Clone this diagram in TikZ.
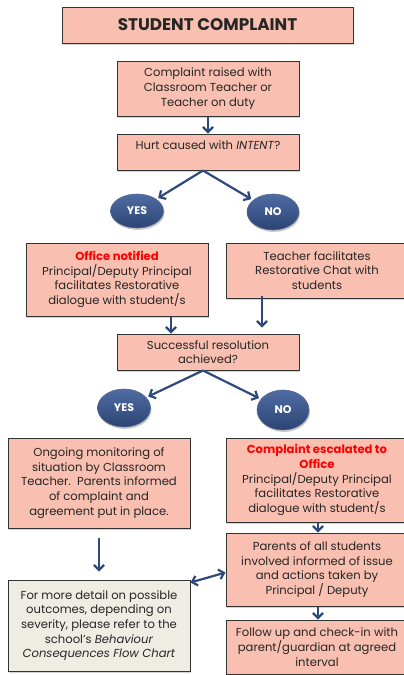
\documentclass[tikz,border=0pt]{standalone}
\usepackage{fontspec}
\setmainfont{Poppins}
\usetikzlibrary{arrows.meta,shapes.geometric,shadows}
\definecolor{salmon}{HTML}{F9BFB0}
\definecolor{greybox}{HTML}{EDEDE3}
\definecolor{arrblue}{HTML}{2E4A7D}
\definecolor{ovaltop}{HTML}{4F6CA3}
\definecolor{ovalbot}{HTML}{2C4474}
\definecolor{redtxt}{HTML}{FF0000}
\tikzset{
  box/.style={draw=black!80, line width=1pt, fill=salmon, align=center, inner sep=2pt,
    font=\fontsize{11.6}{14.7}\selectfont, text=black!85,
    drop shadow={shadow xshift=1pt, shadow yshift=-1.5pt, opacity=0.35}},
  gbox/.style={box, fill=greybox},
  oval/.style={ellipse, draw=ovalbot!80, line width=0.6pt, top color=ovaltop, bottom color=ovalbot,
    text=white, font=\fontsize{11}{13}\selectfont\bfseries, inner sep=0pt,
    drop shadow={shadow xshift=1pt, shadow yshift=-2pt, opacity=0.4}},
  arr/.style={draw=arrblue, line width=2.2pt, -{Straight Barb[length=5pt,width=10pt]}},
  darr/.style={draw=arrblue, line width=2.2pt, {Straight Barb[length=5pt,width=10pt]}-{Straight Barb[length=5pt,width=10pt]}},
}
\begin{document}
\begin{tikzpicture}[x=1pt,y=-1pt]
\useasboundingbox (0,0) rectangle (404,675);
\begin{scope}
\clip (0,0) rectangle (404,675);
\node[box, minimum width=291pt, minimum height=36pt, font=\fontsize{16.8}{20}\selectfont\bfseries] (title) at (207.5,25) {STUDENT COMPLAINT};
\node[box, minimum width=182pt, minimum height=55pt] (b1) at (208,88.5) {Complaint raised with\\Classroom Teacher or\\Teacher on duty};
\node[box, minimum width=182pt, minimum height=36pt] (b2) at (208,152) {Hurt caused with \textit{INTENT}?\\~};
\node[oval, minimum width=53pt, minimum height=34pt] (yes1) at (137,211) {YES};
\node[oval, minimum width=52pt, minimum height=36pt] (no1) at (273,212) {NO};
\node[box, minimum width=182pt, minimum height=73pt] (b3) at (117,279.5) {\textcolor{redtxt}{\textbf{Office notified}}\\Principal/Deputy Principal\\facilitates Restorative\\dialogue with student/s};
\node[box, minimum width=182pt, minimum height=55pt] (b4) at (317,270.5) {Teacher facilitates\\Restorative Chat with\\students};
\node[box, minimum width=182pt, minimum height=36pt] (b5) at (208,352) {Successful resolution\\achieved?};
\node[oval, minimum width=53pt, minimum height=38pt] (yes2) at (124,408) {YES};
\node[oval, minimum width=52pt, minimum height=40pt] (no2) at (283,410) {NO};
\node[box, minimum width=182pt, minimum height=90pt] (b6) at (99,483) {Ongoing monitoring of\\situation by Classroom\\Teacher.\ \ Parents informed\\of complaint and\\agreement put in place.};
\node[box, minimum width=182pt, minimum height=84pt] (b7) at (317,480) {\textcolor{redtxt}{\textbf{Complaint escalated to}}\\\textcolor{redtxt}{\textbf{Office}}\\Principal/Deputy Principal\\facilitates Restorative\\dialogue with student/s};
\node[box, minimum width=182pt, minimum height=73pt] (b8) at (317,569.5) {Parents of all students\\involved informed of issue\\and actions taken by\\Principal / Deputy};
\node[gbox, minimum width=182pt, minimum height=91pt] (b9) at (99,625.5) {For more detail on possible\\outcomes, depending on\\severity, please refer to the\\school's \textit{Behaviour}\\\textit{Consequences Flow Chart}};
\node[box, minimum width=182pt, minimum height=54pt] (b10) at (317,647) {Follow up and check-in with\\parent/guardian at agreed\\interval};
\end{scope}
\coordinate (s2) at ([xshift=-5pt]b2.south);
\coordinate (s5) at ([xshift=-5pt]b5.south);
\draw[arr] (b1.south) -- (b2.north);
\draw[arr, shorten >=2pt] (s2) -- (yes1);
\draw[arr, shorten >=2pt] (s2) -- (no1);
\draw[arr] ([xshift=54pt]b3.south) -- ([xshift=54pt]b3.south |- b5.north);
\draw[arr] ([xshift=-55pt,yshift=3pt]b4.south) -- ([xshift=-55pt,yshift=6pt]b4.south |- b5.north);
\draw[arr, shorten >=2pt] (s5) -- (yes2);
\draw[arr, shorten >=2pt] (s5) -- (no2);
\draw[arr] ([yshift=-9pt]b6.south) -- ([yshift=8pt]b9.north);
\draw[arr] ([xshift=1pt]b7.south) -- ([xshift=1pt]b8.north);
\draw[darr] ([yshift=-3pt]b9.north east) -- ([yshift=-3pt]b8.west);
\draw[arr] ([xshift=1pt]b8.south) -- ([xshift=1pt]b10.north);
\end{tikzpicture}
\end{document}
